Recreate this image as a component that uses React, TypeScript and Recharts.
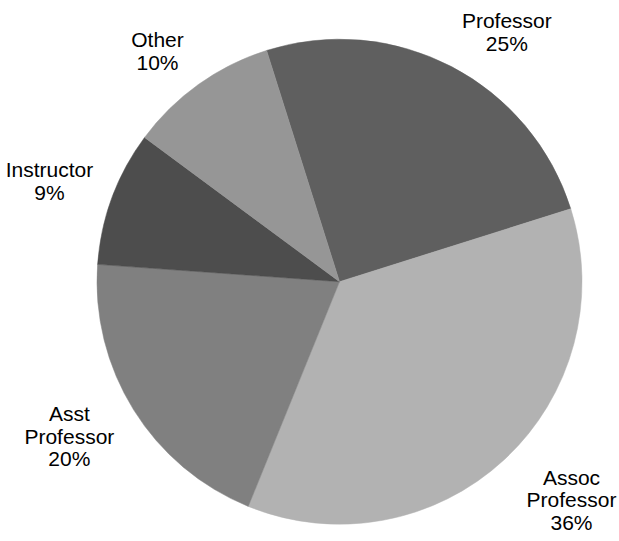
// Faculty rank breakdown - pie chart with outside labels
import { PieChart, Pie, Cell } from 'recharts';

const categories = ['Professor', 'Assoc Professor', 'Asst Professor', 'Instructor', 'Other'];
const shares = [25, 36, 20, 9, 10];

const sliceColors = ['#5f5f5f', '#b2b2b2', '#808080', '#4d4d4d', '#969696'];

// small hand tweaks so labels land where Excel put them
const labelNudge: Record<string, [number, number]> = {
  Professor: [21, 8],
  'Assoc Professor': [17, -4],
  'Asst Professor': [-1, -5],
  Instructor: [12, 0],
  Other: [-9.5, 6],
};

const data = categories.map((name, i) => ({ name, value: shares[i] }));

const FONT = 21;
const LINE = 22.5;
const RADIAN = Math.PI / 180;

function renderLabel(props: any) {
  const { cx, cy, midAngle, outerRadius, percent, name } = props;
  const lines: string[] = String(name).split(' ');
  lines.push(`${Math.round(percent * 100)}%`);
  const w = Math.max(...lines.map((l) => l.length)) * 10;
  const h = (lines.length - 1) * LINE + FONT * 0.716;
  const dx = Math.cos(-midAngle * RADIAN);
  const dy = Math.sin(-midAngle * RADIAN);
  const r = outerRadius + 29.5;
  const nudge = labelNudge[name] || [0, 0];
  const bx = cx + r * dx + (dx * w) / 2 + nudge[0];
  const by = cy + r * dy + (dy * h) / 2 + nudge[1];
  const firstBase = by - ((lines.length - 1) * LINE) / 2 + (FONT * 0.716) / 2;
  return (
    <text
      key={name}
      textAnchor="middle"
      fill="#000"
      fontSize={FONT}
      fontFamily="'Liberation Sans', Arial, sans-serif"
    >
      {lines.map((l, i) => (
        <tspan key={i} x={bx} y={firstBase + i * LINE}>
          {l}
        </tspan>
      ))}
    </text>
  );
}

export default function App() {
  return (
    <div style={{ position: 'fixed', left: 0, top: 0, width: 619, height: 541, background: '#fff' }}>
      <PieChart width={619} height={541} margin={{ top: 0, right: 0, bottom: 0, left: 0 }}>
        <Pie
          data={data}
          dataKey="value"
          nameKey="name"
          cx={339.5}
          cy={281.7}
          outerRadius={242.5}
          startAngle={107.5}
          endAngle={-252.5}
          label={renderLabel}
          labelLine={false}
          isAnimationActive={false}
        >
          {data.map((d, i) => (
            <Cell key={d.name} fill={sliceColors[i]} stroke={sliceColors[i]} strokeWidth={0.5} />
          ))}
        </Pie>
      </PieChart>
    </div>
  );
}
